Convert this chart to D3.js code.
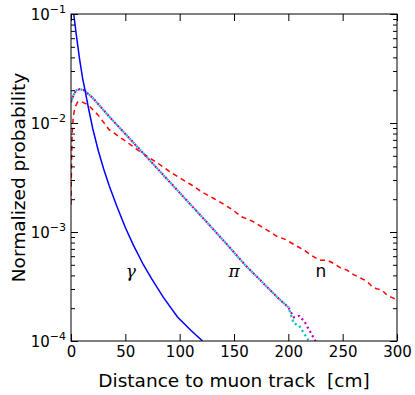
<!DOCTYPE html>
<html>
<head>
<meta charset="utf-8">
<script src="https://cdn.jsdelivr.net/npm/d3@7"></script>
<style>
  body { margin: 0; background: #fff; }
  text { font-family: "DejaVu Sans", sans-serif; fill: #000; }
</style>
</head>
<body>
<div id="chart"></div>
<script>
const width = 415;
const height = 395;
const margin = { top: 14, right: 18, bottom: 54, left: 71 };

// gamma (blue solid)
const gammaX = [0, 2.5, 5, 8, 10.7, 12.9, 16, 20, 25, 30, 35, 42, 50, 57.4, 66.6, 74.3, 85, 98, 110, 121];
const gammaY = [0.158, 0.1, 0.0631, 0.038, 0.0257, 0.02, 0.0138, 0.00891, 0.00562, 0.0038, 0.00269, 0.00174,
  0.0011, 0.000759, 0.000501, 0.000372, 0.000251, 0.000166, 0.000126, 0.0001];

// pion, two samples (magenta / cyan dotted)
const piX = [0, 2.5, 5, 8, 12, 20, 35, 50, 75, 100, 125, 145, 160, 175, 190, 200, 205, 210, 215, 220, 225];
const piMagenta = [0.0155, 0.0182, 0.02, 0.0204, 0.02, 0.017, 0.0115, 0.00794, 0.00427, 0.00229, 0.00123,
  0.000741, 0.000501, 0.000355, 0.000251, 0.000204, 0.000165, 0.00017, 0.00015, 0.000122, 0.0001];
const piCyanX = [0, 2.5, 5, 8, 12, 20, 35, 50, 75, 100, 125, 145, 160, 175, 190, 200, 205, 210, 215, 219];
const piCyan = [0.0155, 0.0182, 0.02, 0.0204, 0.02, 0.017, 0.0115, 0.00794, 0.00427, 0.00229, 0.00123,
  0.000741, 0.000501, 0.000355, 0.000251, 0.000204, 0.000145, 0.000138, 0.000115, 0.0001];

// neutron (red dashed)
const nX = [0, 0.5, 1, 2, 3.5, 6, 9, 16, 25, 35, 50, 63.5, 80, 91, 102, 111, 121, 131, 140, 149, 157, 166,
  174, 182, 189, 197, 206, 215, 222, 229, 236, 242, 248, 254, 260, 266, 272, 277, 281, 286, 290, 295, 300];
const nY = [0.00178, 0.00447, 0.00759, 0.0112, 0.0138, 0.0155, 0.0158, 0.0146, 0.0118, 0.0087, 0.00684,
  0.00546, 0.00427, 0.00357, 0.00305, 0.0027, 0.00231, 0.00204, 0.00181, 0.00159, 0.00138, 0.00127,
  0.00114, 0.00102, 0.000918, 0.000857, 0.000759, 0.000676, 0.000603, 0.00055, 0.00055, 0.000513,
  0.000468, 0.000447, 0.000407, 0.00038, 0.000355, 0.000316, 0.000302, 0.000295, 0.000269, 0.000251, 0.00024];

const xTicks = [0, 50, 100, 150, 200, 250, 300];
const yMajor = [1e-4, 1e-3, 1e-2, 1e-1];
const yExp = ["\u22124", "\u22123", "\u22122", "\u22121"];

const seriesLabels = [
  { text: "\u03b3", x: 55, y: 3.9e-4, italic: true },
  { text: "\u03c0", x: 150, y: 3.9e-4, italic: true },
  { text: "n", x: 230, y: 3.9e-4, italic: false }
];

const svg = d3.select("#chart").append("svg")
  .attr("width", width)
  .attr("height", height);

const x = d3.scaleLinear().domain([0, 300]).range([margin.left, width - margin.right]);
const y = d3.scaleLog().domain([1e-4, 1e-1]).range([height - margin.bottom, margin.top]);

// minor ticks 2..9 in each decade
const yMinor = [];
yMajor.slice(0, 3).forEach(d => { for (let k = 2; k <= 9; k++) yMinor.push(d * k); });

svg.append("clipPath").attr("id", "clip")
  .append("rect")
  .attr("x", margin.left).attr("y", margin.top)
  .attr("width", x(300) - x(0)).attr("height", y(1e-4) - y(1e-1));

const plot = svg.append("g").attr("clip-path", "url(#clip)");

const line = d3.line().x(d => x(d[0])).y(d => y(d[1]));

plot.append("path")
  .datum(nX.map((d, i) => [d, nY[i]]))
  .attr("d", line)
  .attr("fill", "none")
  .attr("stroke", "#ff0000")
  .attr("stroke-width", 1.5)
  .attr("stroke-dasharray", "5,4");

plot.append("path")
  .datum(piCyanX.map((d, i) => [d, piCyan[i]]))
  .attr("d", line)
  .attr("fill", "none")
  .attr("stroke", "#00bfbf")
  .attr("stroke-width", 2.2)
  .attr("stroke-dasharray", "2,3")
  .attr("stroke-dashoffset", 2.5);

plot.append("path")
  .datum(piX.map((d, i) => [d, piMagenta[i]]))
  .attr("d", line)
  .attr("fill", "none")
  .attr("stroke", "#bf00bf")
  .attr("stroke-width", 2.2)
  .attr("stroke-dasharray", "2,3");

plot.append("path")
  .datum(gammaX.map((d, i) => [d, gammaY[i]]))
  .attr("d", line)
  .attr("fill", "none")
  .attr("stroke", "#0000ff")
  .attr("stroke-width", 1.5);

// axes with inward ticks
const bottom = svg.append("g")
  .attr("transform", `translate(0,${y(1e-4)})`)
  .call(d3.axisBottom(x).tickValues(xTicks).tickSize(-7).tickPadding(5).tickSizeOuter(0));
bottom.selectAll("text").style("font-size", "15px");

svg.append("g")
  .attr("transform", `translate(0,${y(1e-1)})`)
  .call(d3.axisTop(x).tickValues(xTicks).tickSize(-7).tickFormat("").tickSizeOuter(0));

const left = svg.append("g")
  .attr("transform", `translate(${x(0)},0)`)
  .call(d3.axisLeft(y).tickValues(yMajor).tickSize(-7).tickFormat("").tickSizeOuter(0));

svg.append("g")
  .attr("transform", `translate(${x(0)},0)`)
  .call(d3.axisLeft(y).tickValues(yMinor).tickSize(-4).tickFormat("").tickSizeOuter(0));

svg.append("g")
  .attr("transform", `translate(${x(300)},0)`)
  .call(d3.axisRight(y).tickValues(yMajor).tickSize(-7).tickFormat("").tickSizeOuter(0));

svg.append("g")
  .attr("transform", `translate(${x(300)},0)`)
  .call(d3.axisRight(y).tickValues(yMinor).tickSize(-4).tickFormat("").tickSizeOuter(0));

svg.selectAll(".domain").remove();
svg.selectAll(".tick line").attr("stroke", "#000").attr("stroke-width", 1);

// y tick labels 10^n
left.selectAll(".tick").each(function(d) {
  const t = d3.select(this).append("text")
    .attr("x", -5)
    .attr("dy", "0.35em")
    .attr("text-anchor", "end")
    .style("font-size", "15px")
    .attr("fill", "#000");
  t.append("tspan").text("10");
  t.append("tspan").attr("dy", "-0.6em").style("font-size", "11px").text(yExp[yMajor.indexOf(d)]);
});

// frame
svg.append("rect")
  .attr("x", x(0)).attr("y", y(1e-1))
  .attr("width", x(300) - x(0)).attr("height", y(1e-4) - y(1e-1))
  .attr("fill", "none")
  .attr("stroke", "#000")
  .attr("stroke-width", 1);

// series labels
svg.selectAll(".slabel")
  .data(seriesLabels)
  .enter().append("text")
  .attr("class", "slabel")
  .attr("x", d => x(d.x))
  .attr("y", d => y(d.y))
  .attr("text-anchor", "middle")
  .style("font-size", "17px")
  .style("font-family", d => d.italic ? "'DejaVu Serif', serif" : "'DejaVu Sans', sans-serif")
  .style("font-style", d => d.italic ? "italic" : "normal")
  .text(d => d.text);

// axis titles
svg.append("text")
  .attr("x", (x(0) + x(300)) / 2)
  .attr("y", 387)
  .attr("text-anchor", "middle")
  .style("font-size", "18.5px")
  .text("Distance to muon track\u00a0 [cm]");

svg.append("text")
  .attr("transform", `translate(25,${(y(1e-1) + y(1e-4)) / 2}) rotate(-90)`)
  .attr("text-anchor", "middle")
  .style("font-size", "18.5px")
  .text("Normalized probability");
</script>
</body>
</html>
